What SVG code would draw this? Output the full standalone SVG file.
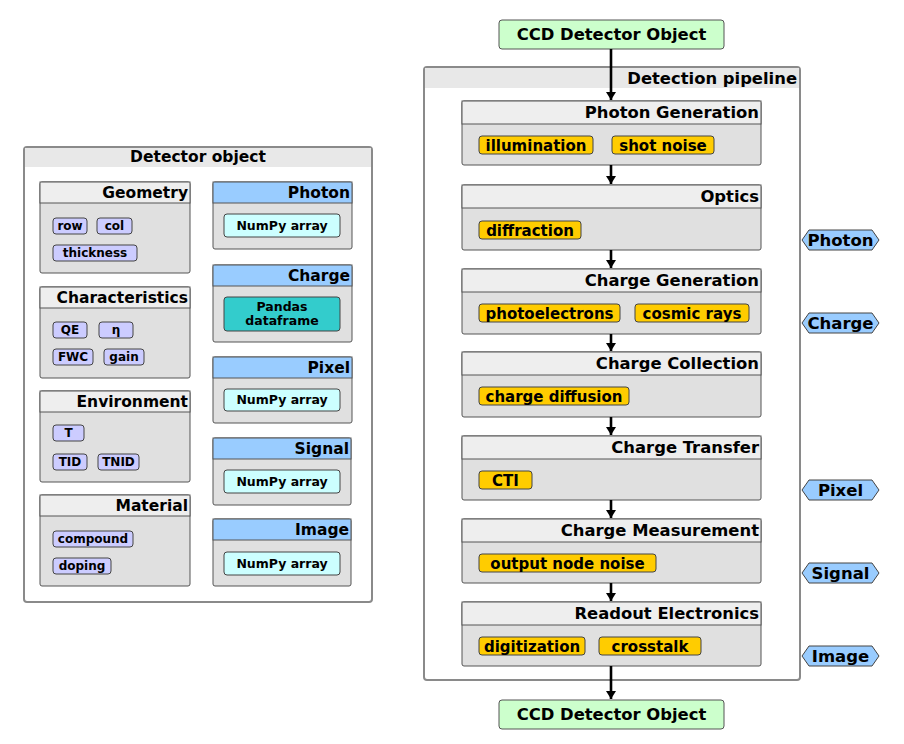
<svg xmlns="http://www.w3.org/2000/svg" width="904" height="744" viewBox="0 0 904 744">
  <defs>
    <style>
      text { font-family: "DejaVu Sans", "Liberation Sans", sans-serif; font-weight: bold; fill: #000; }
      .cont { fill: #ffffff; stroke: #8a8a8a; stroke-width: 2; }
      .conthdr { fill: #e8e8e8; }
      .box { fill: #e0e0e0; stroke: #555; stroke-width: 1; }
      .hdr { fill: #eeeeee; stroke: #555; stroke-width: 1; }
      .bhdr { fill: #99ccff; stroke: #555; stroke-width: 1; }
      .ptag { fill: #ccccff; stroke: #444; stroke-width: 1; }
      .otag { fill: #ffcc00; stroke: #444; stroke-width: 1; }
      .ctag { fill: #ccffff; stroke: #444; stroke-width: 1; }
      .ttag { fill: #33cccc; stroke: #444; stroke-width: 1; }
      .green { fill: #ccffcc; stroke: #555; stroke-width: 1; }
      .hex { fill: #99ccff; stroke: #444; stroke-width: 1; }
      .t16 { font-size: 16.4px; }
      .hx { font-size: 16.5px; }
      .t15 { font-size: 15.5px; }
      .t14 { font-size: 15px; }
      .t12 { font-size: 12.5px; }
      .t11 { font-size: 12px; }
      .end { text-anchor: end; }
      .mid { text-anchor: middle; }
      .conn { stroke: #000; stroke-width: 2.6; fill: none; marker-end: url(#arrow); }
    </style>
    <marker id="arrow" viewBox="0 0 8 10" refX="8" refY="5" markerWidth="3.2" markerHeight="4" orient="auto" markerUnits="strokeWidth">
      <path d="M0,0 L8,5 L0,10 z" fill="#000"/>
    </marker>
  </defs>

  <!-- Detector object container -->
  <g id="detector-object">
    <rect class="cont" x="24" y="147" width="348" height="455" rx="3"/>
    <rect class="conthdr" x="25" y="148" width="346" height="19"/>
    <text class="t15 mid" x="198" y="162">Detector object</text>
  </g>

  <g id="geometry">
    <rect class="box" x="40" y="182" width="150" height="91" rx="2"/>
    <rect class="hdr" x="40" y="182" width="150" height="21"/>
    <text class="t15 end" x="188" y="198">Geometry</text>
    <rect class="ptag" x="53" y="218" width="34" height="16" rx="3"/>
    <text class="t11 mid" x="70" y="230">row</text>
    <rect class="ptag" x="97" y="218" width="35" height="16" rx="3"/>
    <text class="t11 mid" x="114.5" y="230">col</text>
    <rect class="ptag" x="53" y="245" width="84" height="16" rx="3"/>
    <text class="t11 mid" x="95" y="257">thickness</text>
  </g>

  <g id="characteristics">
    <rect class="box" x="40" y="287" width="150" height="91" rx="2"/>
    <rect class="hdr" x="40" y="287" width="150" height="21"/>
    <text class="t15 end" x="188" y="303">Characteristics</text>
    <rect class="ptag" x="53" y="322" width="34" height="16" rx="3"/>
    <text class="t11 mid" x="70" y="334">QE</text>
    <rect class="ptag" x="99" y="322" width="34" height="16" rx="3"/>
    <text class="t11 mid" x="116" y="334">η</text>
    <rect class="ptag" x="53" y="349" width="40" height="16" rx="3"/>
    <text class="t11 mid" x="73" y="361">FWC</text>
    <rect class="ptag" x="104" y="349" width="40" height="16" rx="3"/>
    <text class="t11 mid" x="124" y="361">gain</text>
  </g>

  <g id="environment">
    <rect class="box" x="40" y="391" width="150" height="91" rx="2"/>
    <rect class="hdr" x="40" y="391" width="150" height="21"/>
    <text class="t15 end" x="188" y="407">Environment</text>
    <rect class="ptag" x="53" y="425" width="31" height="16" rx="3"/>
    <text class="t11 mid" x="68.5" y="437">T</text>
    <rect class="ptag" x="53" y="454" width="34" height="16" rx="3"/>
    <text class="t11 mid" x="70" y="466">TID</text>
    <rect class="ptag" x="98" y="454" width="41" height="16" rx="3"/>
    <text class="t11 mid" x="118.5" y="466">TNID</text>
  </g>

  <g id="material">
    <rect class="box" x="40" y="495" width="150" height="91" rx="2"/>
    <rect class="hdr" x="40" y="495" width="150" height="21"/>
    <text class="t15 end" x="188" y="511">Material</text>
    <rect class="ptag" x="53" y="531" width="80" height="16" rx="3"/>
    <text class="t11 mid" x="93" y="543">compound</text>
    <rect class="ptag" x="53" y="558" width="58" height="16" rx="3"/>
    <text class="t11 mid" x="82" y="570">doping</text>
  </g>

  <g id="photon">
    <rect class="box" x="213" y="182" width="139" height="67" rx="2"/>
    <rect class="bhdr" x="213" y="182" width="139" height="21"/>
    <text class="t15 end" x="350" y="198">Photon</text>
    <rect class="ctag" x="224" y="214" width="116" height="23" rx="3"/>
    <text class="t12 mid" x="282" y="230">NumPy array</text>
  </g>

  <g id="charge">
    <rect class="box" x="213" y="265" width="139" height="77" rx="2"/>
    <rect class="bhdr" x="213" y="265" width="139" height="21"/>
    <text class="t15 end" x="350" y="281">Charge</text>
    <rect class="ttag" x="224" y="297" width="116" height="34" rx="3"/>
    <text class="t12 mid" x="282" y="311">Pandas</text>
    <text class="t12 mid" x="282" y="325">dataframe</text>
  </g>

  <g id="pixel">
    <rect class="box" x="213" y="357" width="139" height="66" rx="2"/>
    <rect class="bhdr" x="213" y="357" width="139" height="21"/>
    <text class="t15 end" x="350" y="373">Pixel</text>
    <rect class="ctag" x="224" y="389" width="116" height="22" rx="3"/>
    <text class="t12 mid" x="282" y="404">NumPy array</text>
  </g>

  <g id="signal">
    <rect class="box" x="213" y="438" width="138" height="67" rx="2"/>
    <rect class="bhdr" x="213" y="438" width="138" height="21"/>
    <text class="t15 end" x="349" y="454">Signal</text>
    <rect class="ctag" x="224" y="470" width="116" height="23" rx="3"/>
    <text class="t12 mid" x="282" y="486">NumPy array</text>
  </g>

  <g id="image">
    <rect class="box" x="213" y="519" width="138" height="67" rx="2"/>
    <rect class="bhdr" x="213" y="519" width="138" height="21"/>
    <text class="t15 end" x="349" y="535">Image</text>
    <rect class="ctag" x="224" y="552" width="116" height="23" rx="3"/>
    <text class="t12 mid" x="282" y="568">NumPy array</text>
  </g>

  <!-- Detection pipeline container -->
  <g id="detection-pipeline">
    <rect class="cont" x="424" y="67" width="376" height="613" rx="3"/>
    <rect class="conthdr" x="425" y="68" width="374" height="20"/>
    <text class="t16 end" x="797" y="84">Detection pipeline</text>
  </g>

  <g id="ccd-in">
    <rect class="green" x="499" y="20" width="225" height="29" rx="3"/>
    <text class="t16 mid" x="611.5" y="40">CCD Detector Object</text>
  </g>

  <g id="ccd-out">
    <rect class="green" x="499" y="700" width="225" height="29" rx="3"/>
    <text class="t16 mid" x="611.5" y="720">CCD Detector Object</text>
  </g>

  <g id="photon-generation">
    <rect class="box" x="462" y="101" width="299" height="64" rx="2"/>
    <rect class="hdr" x="462" y="101" width="299" height="23"/>
    <text class="t16 end" x="759" y="118">Photon Generation</text>
    <rect class="otag" x="479" y="136" width="114" height="18" rx="3"/>
    <text class="t14 mid" x="536" y="150.5">illumination</text>
    <rect class="otag" x="612" y="136" width="102" height="18" rx="3"/>
    <text class="t14 mid" x="663" y="150.5">shot noise</text>
  </g>

  <g id="optics">
    <rect class="box" x="462" y="185" width="299" height="65" rx="2"/>
    <rect class="hdr" x="462" y="185" width="299" height="23"/>
    <text class="t16 end" x="759" y="202">Optics</text>
    <rect class="otag" x="479" y="221" width="102" height="18" rx="3"/>
    <text class="t14 mid" x="530" y="235.5">diffraction</text>
  </g>

  <g id="charge-generation">
    <rect class="box" x="462" y="269" width="299" height="65" rx="2"/>
    <rect class="hdr" x="462" y="269" width="299" height="23"/>
    <text class="t16 end" x="759" y="286">Charge Generation</text>
    <rect class="otag" x="479" y="304" width="141" height="18" rx="3"/>
    <text class="t14 mid" x="549.5" y="318.5">photoelectrons</text>
    <rect class="otag" x="635" y="304" width="114" height="18" rx="3"/>
    <text class="t14 mid" x="692" y="318.5">cosmic rays</text>
  </g>

  <g id="charge-collection">
    <rect class="box" x="462" y="352" width="299" height="65" rx="2"/>
    <rect class="hdr" x="462" y="352" width="299" height="23"/>
    <text class="t16 end" x="759" y="369">Charge Collection</text>
    <rect class="otag" x="479" y="387" width="150" height="18" rx="3"/>
    <text class="t14 mid" x="554" y="401.5">charge diffusion</text>
  </g>

  <g id="charge-transfer">
    <rect class="box" x="462" y="436" width="299" height="64" rx="2"/>
    <rect class="hdr" x="462" y="436" width="299" height="23"/>
    <text class="t16 end" x="759" y="453">Charge Transfer</text>
    <rect class="otag" x="479" y="471" width="53" height="18" rx="3"/>
    <text class="t14 mid" x="505.5" y="485.5">CTI</text>
  </g>

  <g id="charge-measurement">
    <rect class="box" x="462" y="519" width="299" height="64" rx="2"/>
    <rect class="hdr" x="462" y="519" width="299" height="23"/>
    <text class="t16 end" x="759" y="536">Charge Measurement</text>
    <rect class="otag" x="479" y="554" width="177" height="18" rx="3"/>
    <text class="t14 mid" x="567.5" y="568.5">output node noise</text>
  </g>

  <g id="readout-electronics">
    <rect class="box" x="462" y="602" width="299" height="64" rx="2"/>
    <rect class="hdr" x="462" y="602" width="299" height="23"/>
    <text class="t16 end" x="759" y="619">Readout Electronics</text>
    <rect class="otag" x="479" y="637" width="106" height="18" rx="3"/>
    <text class="t14 mid" x="532" y="651.5">digitization</text>
    <rect class="otag" x="599" y="637" width="102" height="18" rx="3"/>
    <text class="t14 mid" x="650" y="651.5">crosstalk</text>
  </g>

  <!-- Data-type tags beside the pipeline -->
  <g id="tag-photon">
    <polygon class="hex" points="802,240 809,230 872,230 879,240 872,250 809,250"/>
    <text class="hx mid" x="840.5" y="246">Photon</text>
  </g>
  <g id="tag-charge">
    <polygon class="hex" points="802,323 809,313 872,313 879,323 872,333 809,333"/>
    <text class="hx mid" x="840.5" y="329">Charge</text>
  </g>
  <g id="tag-pixel">
    <polygon class="hex" points="802,490 809,480 872,480 879,490 872,500 809,500"/>
    <text class="hx mid" x="840.5" y="496">Pixel</text>
  </g>
  <g id="tag-signal">
    <polygon class="hex" points="802,573 809,563 872,563 879,573 872,583 809,583"/>
    <text class="hx mid" x="840.5" y="579">Signal</text>
  </g>
  <g id="tag-image">
    <polygon class="hex" points="802,656 809,646 872,646 879,656 872,666 809,666"/>
    <text class="hx mid" x="840.5" y="662">Image</text>
  </g>

  <!-- Connectors -->
  <g id="connectors">
    <line class="conn" x1="611" y1="49" x2="611" y2="100"/>
    <line class="conn" x1="611" y1="165" x2="611" y2="184"/>
    <line class="conn" x1="611" y1="250" x2="611" y2="268"/>
    <line class="conn" x1="611" y1="334" x2="611" y2="351"/>
    <line class="conn" x1="611" y1="417" x2="611" y2="435"/>
    <line class="conn" x1="611" y1="500" x2="611" y2="518"/>
    <line class="conn" x1="611" y1="583" x2="611" y2="601"/>
    <line class="conn" x1="611" y1="666" x2="611" y2="699"/>
  </g>
</svg>
